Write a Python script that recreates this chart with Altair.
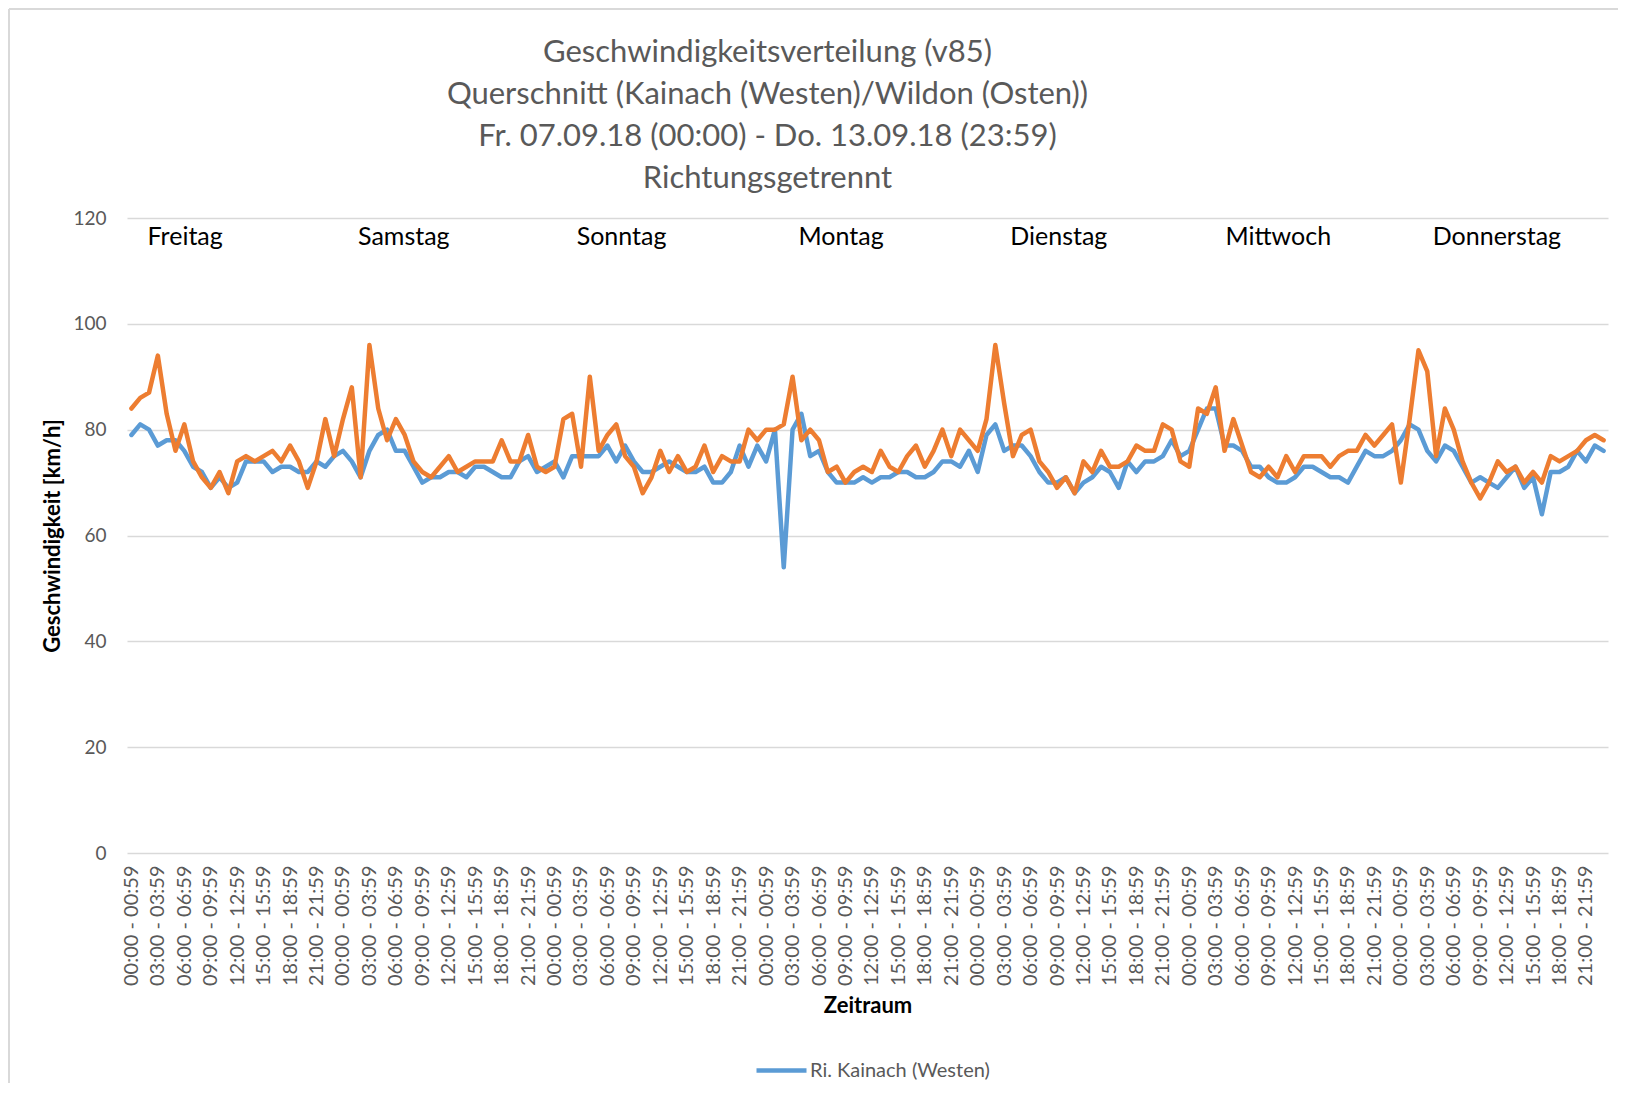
import altair as alt
import pandas as pd

series = ["Ri. Kainach (Westen)", "Ri. Wildon (Osten)"]
colors = ["#5B9BD5", "#ED7D31"]

days = ["Freitag", "Samstag", "Sonntag", "Montag", "Dienstag", "Mittwoch", "Donnerstag"]
day_label_pos = [6.1, 30.9, 55.6, 80.5, 105.2, 130.1, 154.9]
day_label_y = [116.5] * 7

hour_labels = [
    "00:00 - 00:59", "01:00 - 01:59", "02:00 - 02:59", "03:00 - 03:59",
    "04:00 - 04:59", "05:00 - 05:59", "06:00 - 06:59", "07:00 - 07:59",
    "08:00 - 08:59", "09:00 - 09:59", "10:00 - 10:59", "11:00 - 11:59",
    "12:00 - 12:59", "13:00 - 13:59", "14:00 - 14:59", "15:00 - 15:59",
    "16:00 - 16:59", "17:00 - 17:59", "18:00 - 18:59", "19:00 - 19:59",
    "20:00 - 20:59", "21:00 - 21:59", "22:00 - 22:59", "23:00 - 23:59",
]

kainach = [
    79, 81, 80, 77, 78, 78, 76, 73, 72, 69, 71, 69, 70, 74, 74, 74, 72, 73, 73, 72, 72, 74, 73, 75,
    76, 74, 71, 76, 79, 80, 76, 76, 73, 70, 71, 71, 72, 72, 71, 73, 73, 72, 71, 71, 74, 75, 72, 73,
    74, 71, 75, 75, 75, 75, 77, 74, 77, 74, 72, 72, 73, 74, 73, 72, 72, 73, 70, 70, 72, 77, 73, 77,
    74, 80, 54, 80, 83, 75, 76, 72, 70, 70, 70, 71, 70, 71, 71, 72, 72, 71, 71, 72, 74, 74, 73, 76,
    72, 79, 81, 76, 77, 77, 75, 72, 70, 70, 71, 68, 70, 71, 73, 72, 69, 74, 72, 74, 74, 75, 78, 75,
    76, 80, 84, 84, 77, 77, 76, 73, 73, 71, 70, 70, 71, 73, 73, 72, 71, 71, 70, 73, 76, 75, 75, 76,
    78, 81, 80, 76, 74, 77, 76, 73, 70, 71, 70, 69, 71, 73, 69, 71, 64, 72, 72, 73, 76, 74, 77, 76,
]

wildon = [
    84, 86, 87, 94, 83, 76, 81, 74, 71, 69, 72, 68, 74, 75, 74, 75, 76, 74, 77, 74, 69, 74, 82, 75,
    82, 88, 71, 96, 84, 78, 82, 79, 74, 72, 71, 73, 75, 72, 73, 74, 74, 74, 78, 74, 74, 79, 73, 72,
    73, 82, 83, 73, 90, 76, 79, 81, 75, 73, 68, 71, 76, 72, 75, 72, 73, 77, 72, 75, 74, 74, 80, 78,
    80, 80, 81, 90, 78, 80, 78, 72, 73, 70, 72, 73, 72, 76, 73, 72, 75, 77, 73, 76, 80, 75, 80, 78,
    76, 82, 96, 85, 75, 79, 80, 74, 72, 69, 71, 68, 74, 72, 76, 73, 73, 74, 77, 76, 76, 81, 80, 74,
    73, 84, 83, 88, 76, 82, 77, 72, 71, 73, 71, 75, 72, 75, 75, 75, 73, 75, 76, 76, 79, 77, 79, 81,
    70, 82, 95, 91, 75, 84, 80, 74, 70, 67, 70, 74, 72, 73, 70, 72, 70, 75, 74, 75, 76, 78, 79, 78,
]

y_ticks = [0, 20, 40, 60, 80, 100, 120]
x_ticks = list(range(0, 168, 3))

rows = []
for name, vals in zip(series, [kainach, wildon]):
    for i, v in enumerate(vals):
        rows.append({"idx": i, "v": v, "s": name})
df = pd.DataFrame(rows)

day_df = pd.DataFrame({"day": days, "pos": day_label_pos, "y": day_label_y})

label_array = "[" + ",".join("'" + h + "'" for h in hour_labels) + "]"

FONT = "Lato"
GRAY = "#595959"

x_enc = alt.X(
    "idx:Q",
    scale=alt.Scale(domain=[-0.5, 167.5], nice=False, zero=False),
    axis=alt.Axis(
        values=x_ticks,
        tickCount=500,
        labelExpr=label_array + "[datum.value % 24]",
        labelAngle=270,
        labelFontSize=20,
        labelColor=GRAY,
        labelFont=FONT,
        labelPadding=12,
        labelOverlap=False,
        labelFlush=False,
        labelSeparation=0,
        ticks=False,
        domain=False,
        grid=False,
        title="Zeitraum",
        titleFont=FONT,
        titleFontSize=22,
        titleFontWeight="bold",
        titleColor="#000000",
        titlePadding=10,
    ),
)

y_enc = alt.Y(
    "v:Q",
    scale=alt.Scale(domain=[0, 120], nice=False, zero=True),
    axis=alt.Axis(
        values=y_ticks,
        grid=True,
        gridColor="#d9d9d9",
        gridWidth=1.5,
        domain=False,
        ticks=False,
        labelFontSize=19,
        labelColor=GRAY,
        labelFont=FONT,
        labelPadding=21,
        title="Geschwindigkeit [km/h]",
        titleFont=FONT,
        titleFontSize=22,
        titleFontWeight="bold",
        titleColor="#000000",
        titlePadding=8,
    ),
)

lines = alt.Chart(df).mark_line(strokeWidth=4.5, strokeJoin="round", strokeCap="round").encode(
    x=x_enc,
    y=y_enc,
    color=alt.Color(
        "s:N",
        scale=alt.Scale(domain=series, range=colors),
        legend=alt.Legend(
            values=[series[0]],
            orient="none",
            legendX=627,
            legendY=825,
            title=None,
            symbolType="stroke",
            symbolSize=2500,
            symbolStrokeWidth=4.5,
            labelFontSize=20,
            labelColor=GRAY,
            labelFont=FONT,
            labelOffset=1,
            labelLimit=500,
            padding=0,
        ),
    ),
    order=alt.Order("s:N"),
)

day_text = alt.Chart(day_df).mark_text(fontSize=25, font=FONT, color="#000000").encode(
    x=alt.X("pos:Q"),
    y=alt.Y("y:Q"),
    text="day:N",
)

# outer chart-area frame (left and top edges)
frame_left = alt.Chart(day_df).mark_rule(color="#d9d9d9", strokeWidth=1.5).encode(
    x=alt.value(-118), y=alt.value(-209), y2=alt.value(883)
)
frame_top = alt.Chart(day_df).mark_rule(color="#d9d9d9", strokeWidth=1.5).encode(
    x=alt.value(-118), x2=alt.value(1500), y=alt.value(-209)
)

chart = alt.layer(frame_left, frame_top, lines, day_text).properties(
    width=1481,
    height=635,
    title=alt.TitleParams(
        text=[
            "Geschwindigkeitsverteilung (v85)",
            "Querschnitt (Kainach (Westen)/Wildon (Osten))",
            "Fr. 07.09.18 (00:00) - Do. 13.09.18 (23:59)",
            "Richtungsgetrennt",
        ],
        font=FONT,
        fontSize=31,
        fontWeight="normal",
        color=GRAY,
        lineHeight=42,
        anchor="middle",
        frame="group",
        dx=-100,
        dy=205,
        offset=18,
    ),
    padding={"left": 119, "top": 210, "right": 10, "bottom": 230},
    autosize=alt.AutoSizeParams(type="none"),
).configure_view(stroke=None)

chart.save("out.html", embed_options={"renderer": "svg", "actions": False})
